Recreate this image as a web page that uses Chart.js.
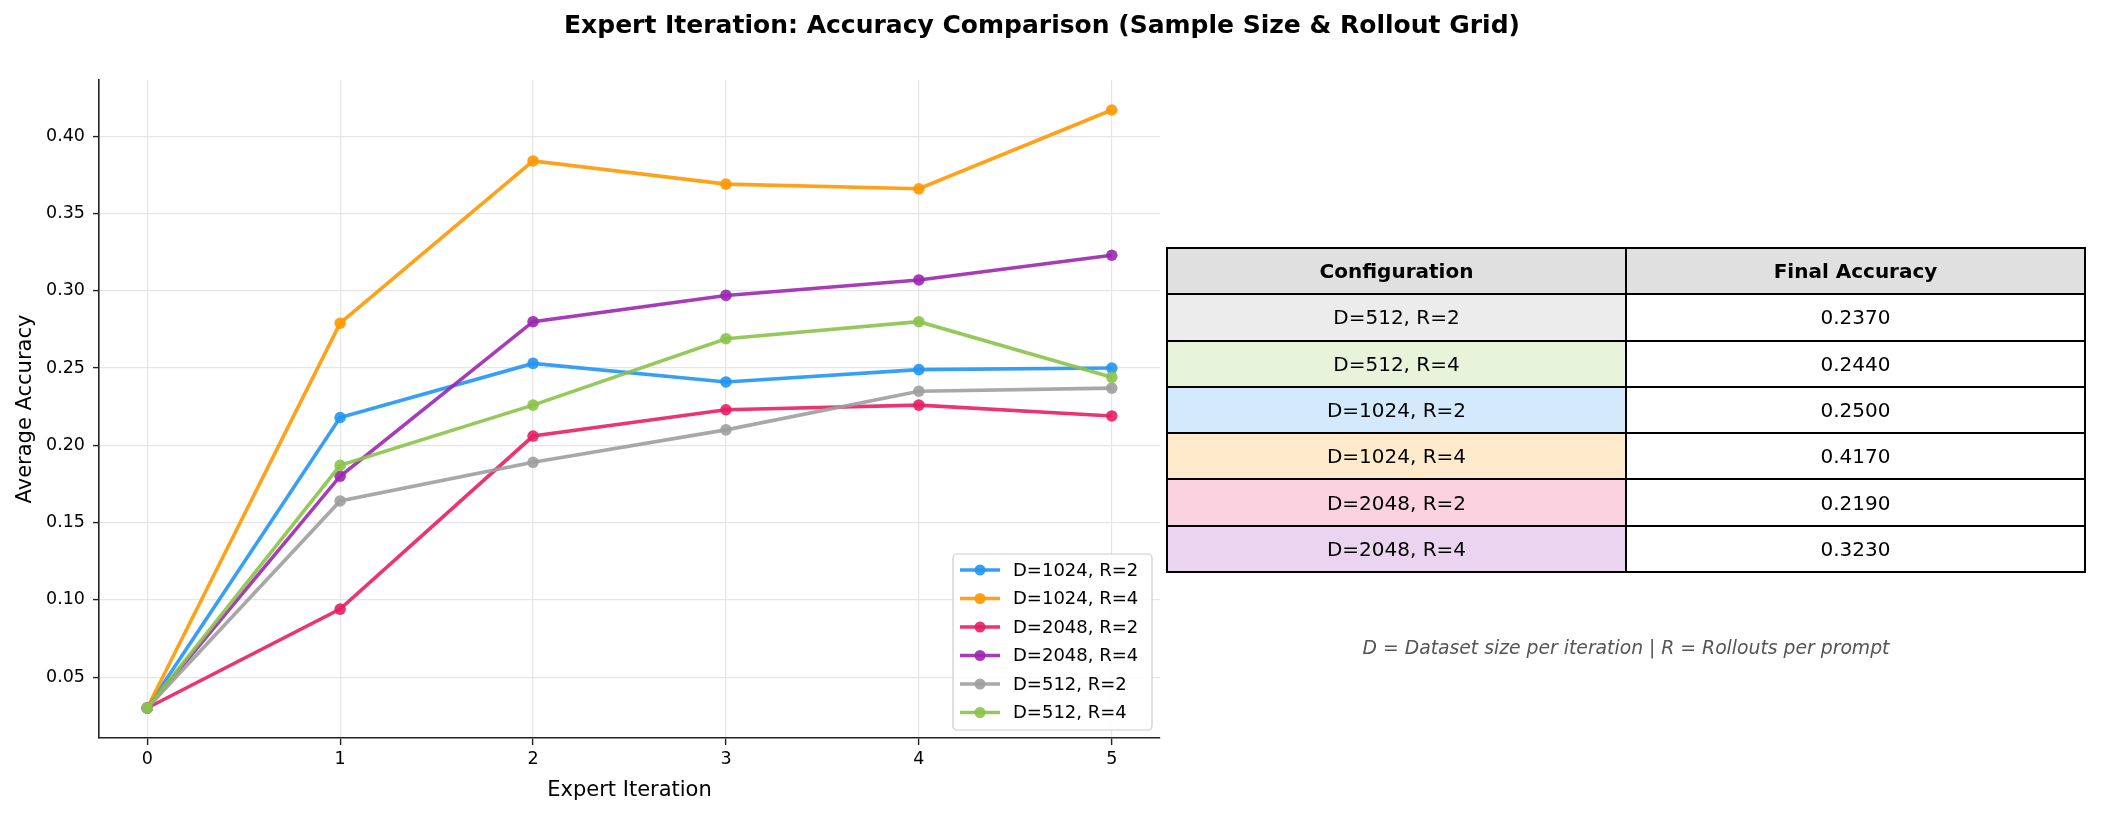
<!DOCTYPE html>
<html>
<head>
<meta charset="utf-8">
<script src="https://cdn.jsdelivr.net/npm/chart.js@4.4.1/dist/chart.umd.min.js"></script>
<style>
  body { margin: 0; background: #fff; font-family: "DejaVu Sans", sans-serif; }
  #wrap { position: relative; width: 2101px; height: 816px; overflow: hidden; }
  #title { position: absolute; left: 0; width: 2084px; top: 10px; text-align: center;
           font-weight: bold; font-size: 25px; color: #000; }
  #summary { position: absolute; left: 1166px; top: 247px; width: 920px; height: 326px;
             border-collapse: collapse; font-size: 20px; color: #000; }
  #summary td, #summary th { border: 2px solid #000; text-align: center; padding: 0; width: 50%; }
  #summary th { background: #e0e0e0; font-weight: bold; }
  #note { position: absolute; left: 1166px; width: 920px; top: 637px; text-align: center;
          font-style: italic; font-size: 18.8px; color: #555; }
</style>
</head>
<body>
<div id="wrap">
  <canvas id="accChart" width="2101" height="816"></canvas>
  <div id="title">Expert Iteration: Accuracy Comparison (Sample Size &amp; Rollout Grid)</div>
  <table id="summary"></table>
  <div id="note">D = Dataset size per iteration | R = Rollouts per prompt</div>
</div>
<script>
// chart values
const iterations = [0, 1, 2, 3, 4, 5];
const yTicks = [0.05, 0.10, 0.15, 0.20, 0.25, 0.30, 0.35, 0.40];

const seriesLabels = ['D=1024, R=2', 'D=1024, R=4', 'D=2048, R=2', 'D=2048, R=4', 'D=512, R=2', 'D=512, R=4'];
const seriesColors = ['#2196F3', '#FF9800', '#E91E63', '#9C27B0', '#9E9E9E', '#8BC34A'];

const d1024r2 = [0.030, 0.218, 0.253, 0.241, 0.249, 0.250];
const d1024r4 = [0.030, 0.279, 0.384, 0.369, 0.366, 0.417];
const d2048r2 = [0.030, 0.094, 0.206, 0.223, 0.226, 0.219];
const d2048r4 = [0.030, 0.180, 0.280, 0.297, 0.307, 0.323];
const d512r2  = [0.030, 0.164, 0.189, 0.210, 0.235, 0.237];
const d512r4  = [0.030, 0.187, 0.226, 0.269, 0.280, 0.244];
const seriesValues = [d1024r2, d1024r4, d2048r2, d2048r4, d512r2, d512r4];

// table rows (order as in the reference) -> index into the series above
const tableOrder = [4, 5, 0, 1, 2, 3];
const tableAlpha = ['#ececec', '#e8f3db', '#d3eafd', '#ffeacc', '#fbd2e0', '#ebd4ef'];

// build the summary table
const table = document.getElementById('summary');
let html = '<tr><th>Configuration</th><th>Final Accuracy</th></tr>';
tableOrder.forEach((s, i) => {
  const vals = seriesValues[s];
  html += '<tr><td style="background:' + tableAlpha[i] + '">' + seriesLabels[s] + '</td>' +
          '<td>' + vals[vals.length - 1].toFixed(4) + '</td></tr>';
});
table.innerHTML = html;

function withAlpha(hex, a) {
  const n = parseInt(hex.slice(1), 16);
  return 'rgba(' + (n >> 16) + ',' + ((n >> 8) & 255) + ',' + (n & 255) + ',' + a + ')';
}

// legend drawn inside the plot, lower right (like matplotlib loc='best')
const innerLegend = {
  id: 'innerLegend',
  afterDraw(chart) {
    const ctx = chart.ctx;
    const x0 = 953, y0 = 554, w = 199, h = 176;
    ctx.save();
    ctx.fillStyle = 'rgba(255,255,255,0.85)';
    ctx.strokeStyle = '#cccccc';
    ctx.lineWidth = 1.2;
    ctx.beginPath();
    ctx.roundRect(x0, y0, w, h, 4);
    ctx.fill();
    ctx.stroke();
    ctx.font = '18px "DejaVu Sans"';
    ctx.textBaseline = 'middle';
    chart.data.datasets.forEach((ds, i) => {
      const y = y0 + 16 + i * 28.5;
      ctx.strokeStyle = ds.borderColor;
      ctx.lineWidth = 3.5;
      ctx.beginPath();
      ctx.moveTo(960, y);
      ctx.lineTo(1000, y);
      ctx.stroke();
      ctx.fillStyle = ds.borderColor;
      ctx.beginPath();
      ctx.arc(980, y, 5.5, 0, Math.PI * 2);
      ctx.fill();
      ctx.fillStyle = '#000';
      ctx.fillText(ds.label, 1013, y + 1);
    });
    ctx.restore();
  }
};

const n = seriesValues.length;
const chart = new Chart(document.getElementById('accChart'), {
  type: 'line',
  data: {
    datasets: seriesValues.map((vals, i) => ({
      label: seriesLabels[i],
      data: iterations.map((x, j) => ({ x: x, y: vals[j] })),
      borderColor: withAlpha(seriesColors[i], 0.9),
      backgroundColor: withAlpha(seriesColors[i], 0.9),
      borderWidth: 3.6,
      pointRadius: 5.8,
      pointBorderWidth: 0,
      pointHoverRadius: 5.8,
      fill: false,
      tension: 0,
      order: n - 1 - i
    }))
  },
  options: {
    responsive: false,
    animation: false,
    devicePixelRatio: 1,
    layout: { padding: { left: 0, top: 80, right: 941, bottom: 0 } },
    plugins: {
      legend: { display: false },
      tooltip: { enabled: false }
    },
    scales: {
      x: {
        type: 'linear',
        min: -0.25,
        max: 5.25,
        afterBuildTicks: (scale) => { scale.ticks = iterations.map(v => ({ value: v })); },
        afterFit: (scale) => { scale.height = 78; },
        ticks: {
          color: '#000',
          font: { family: 'DejaVu Sans', size: 17.5 },
          padding: 4,
          maxRotation: 0,
          callback: (v) => String(v)
        },
        grid: { color: '#e6e6e6', lineWidth: 1.2, tickLength: 7, tickColor: '#222', tickWidth: 1.4 },
        border: { color: '#222', width: 1.6 },
        title: {
          display: true,
          text: 'Expert Iteration',
          color: '#000',
          font: { family: 'DejaVu Sans', size: 21 },
          padding: { top: 0, bottom: 13 }
        }
      },
      y: {
        min: 0.0106,
        max: 0.4364,
        afterBuildTicks: (scale) => { scale.ticks = yTicks.map(v => ({ value: v })); },
        afterFit: (scale) => { scale.width = 99; },
        ticks: {
          color: '#000',
          font: { family: 'DejaVu Sans', size: 17.5 },
          padding: 8,
          callback: (v) => v.toFixed(2)
        },
        grid: { color: '#e6e6e6', lineWidth: 1.2, tickLength: 6, tickColor: '#222', tickWidth: 1.4 },
        border: { color: '#222', width: 1.6 },
        title: {
          display: true,
          text: 'Average Accuracy',
          color: '#000',
          font: { family: 'DejaVu Sans', size: 21 },
          padding: { top: 13, bottom: 0 }
        }
      }
    }
  },
  plugins: [innerLegend]
});
</script>
</body>
</html>
